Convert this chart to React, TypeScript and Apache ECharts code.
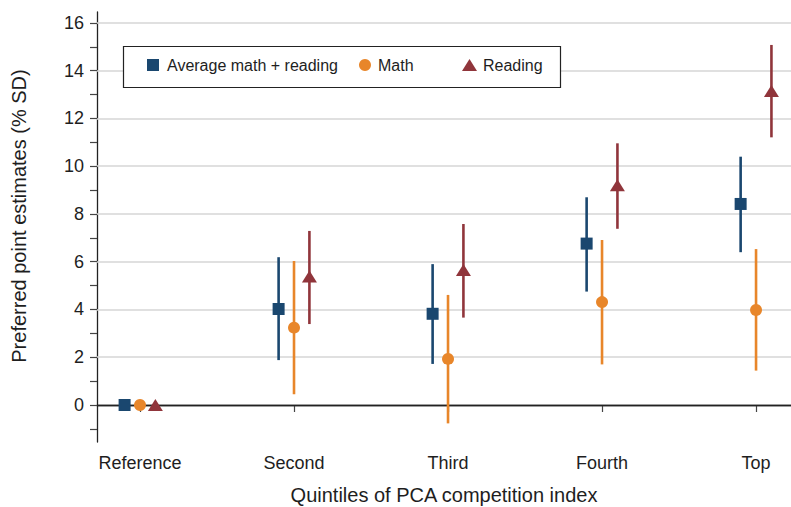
import React, { useEffect, useRef } from "react";
import * as echarts from "echarts";

const categories = ["Reference", "Second", "Third", "Fourth", "Top"];

const avgEst = [0, 4.02, 3.82, 6.76, 8.42];
const avgLo = [null, 1.88, 1.72, 4.75, 6.4];
const avgHi = [null, 6.19, 5.9, 8.7, 10.4];

const mathEst = [0, 3.24, 1.93, 4.31, 3.98];
const mathLo = [null, 0.45, -0.77, 1.7, 1.44];
const mathHi = [null, 6.03, 4.61, 6.91, 6.53];

const readEst = [0, 5.38, 5.65, 9.2, 13.15];
const readLo = [null, 3.39, 3.66, 7.38, 11.21];
const readHi = [null, 7.29, 7.58, 10.96, 15.08];

const yTickLabels = [0, 2, 4, 6, 8, 10, 12, 14, 16];
const yMinorTicks = [-1, 0, 1, 2, 3, 4, 5, 6, 7, 8, 9, 10, 11, 12, 13, 14, 15, 16];
const gridValues = [2, 4, 6, 8, 10, 12, 14, 16];

const FONT = "'Liberation Sans', Arial, Helvetica, sans-serif";
const TEXT = "#1e1e1e";
const BLUE = "#1a476f";
const ORANGE = "#e8862a";
const MAROON = "#90353b";

const NAMES = ["Average math + reading", "Math", "Reading"];

type Group = {
  name: string;
  color: string;
  symbol: string;
  size: number | number[];
  offset: number;
  est: number[];
  lo: (number | null)[];
  hi: (number | null)[];
};

const groups: Group[] = [
  { name: NAMES[0], color: BLUE, symbol: "rect", size: 12, offset: -0.1, est: avgEst, lo: avgLo, hi: avgHi },
  { name: NAMES[1], color: ORANGE, symbol: "circle", size: 12, offset: 0, est: mathEst, lo: mathLo, hi: mathHi },
  { name: NAMES[2], color: MAROON, symbol: "triangle", size: [15, 12], offset: 0.1, est: readEst, lo: readLo, hi: readHi },
];

export default function App() {
  const ref = useRef<HTMLDivElement>(null);

  useEffect(() => {
    document.body.style.margin = "0";
    if (!ref.current) return;
    const chart = echarts.init(ref.current, null, { renderer: "svg" });

    const series: any[] = [];

    // reference lines: light grid at even values, dark line at zero
    series.push({
      type: "scatter",
      data: [],
      silent: true,
      z: 1,
      markLine: {
        silent: true,
        z: 1,
        symbol: "none",
        label: { show: false },
        animation: false,
        data: [
          ...gridValues.map((v) => ({ yAxis: v, lineStyle: { color: "#d6d6d6", width: 1.5, type: "solid" } })),
          { yAxis: 0, lineStyle: { color: "#222", width: 1.3, type: "solid" } },
        ],
      },
    });

    groups.forEach((g) => {
      const ciData = categories
        .map((_, i) => (g.lo[i] == null ? null : [i + 1 + g.offset, g.lo[i], g.hi[i]]))
        .filter((d) => d !== null);
      series.push({
        type: "custom",
        name: g.name + " CI",
        z: 3,
        silent: true,
        data: ciData,
        renderItem: (params: any, api: any) => {
          const p1 = api.coord([api.value(0), api.value(1)]);
          const p2 = api.coord([api.value(0), api.value(2)]);
          return {
            type: "line",
            shape: { x1: p1[0], y1: p1[1], x2: p2[0], y2: p2[1] },
            style: { stroke: g.color, lineWidth: 2.6 },
          };
        },
      });
      series.push({
        type: "scatter",
        name: g.name,
        z: 4,
        symbol: g.symbol,
        symbolSize: g.size,
        itemStyle: { color: g.color, opacity: 1 },
        data: categories.map((_, i) => [i + 1 + g.offset, g.est[i]]),
      });
    });

    const legendBase = {
      top: 57,
      padding: 0,
      itemHeight: 12,
      selectedMode: false,
      z: 10,
    };
    const legendText = (pad: number) => ({
      fontFamily: FONT,
      fontSize: 16,
      color: TEXT,
      padding: [0, 0, 0, pad],
    });

    chart.setOption({
      animation: false,
      backgroundColor: "#fff",
      grid: { left: 97, right: 0, top: 12, bottom: 65 },
      legend: [
        { ...legendBase, left: 147, itemWidth: 12, textStyle: legendText(3), data: [NAMES[0]] },
        { ...legendBase, left: 359, itemWidth: 12, textStyle: legendText(2), data: [NAMES[1]] },
        { ...legendBase, left: 462, itemWidth: 15, textStyle: legendText(1), data: [NAMES[2]] },
      ],
      graphic: [
        {
          type: "rect",
          z: 8,
          shape: { x: 123.5, y: 46.5, width: 437, height: 41 },
          style: { fill: "#fff", stroke: "#222", lineWidth: 1.2 },
        },
        {
          type: "text",
          x: 19,
          y: 216,
          rotation: Math.PI / 2,
          style: {
            text: "Preferred point estimates (% SD)",
            font: `20px ${FONT}`,
            fill: TEXT,
            align: "center",
            verticalAlign: "middle",
          },
        },
        {
          type: "text",
          x: 444,
          y: 495,
          style: {
            text: "Quintiles of PCA competition index",
            font: `20px ${FONT}`,
            fill: TEXT,
            align: "center",
            verticalAlign: "middle",
          },
        },
      ],
      xAxis: {
        type: "value",
        min: 0.7208,
        max: 5.227,
        splitLine: { show: false },
        axisLine: { show: true, lineStyle: { color: "#222", width: 1.3 } },
        axisTick: { show: true, length: 7, customValues: [1, 2, 3, 4, 5], lineStyle: { color: "#444", width: 1.2 } },
        axisLabel: {
          customValues: [1, 2, 3, 4, 5],
          formatter: (v: number) => categories[Math.round(v) - 1],
          fontFamily: FONT,
          fontSize: 18,
          color: TEXT,
          margin: 12,
        },
      },
      yAxis: {
        type: "value",
        min: -1.55,
        max: 16.46,
        splitLine: { show: false },
        axisLine: { show: true, lineStyle: { color: "#222", width: 1.3 } },
        axisTick: { show: true, length: 7, customValues: yMinorTicks, lineStyle: { color: "#444", width: 1.2 } },
        axisLabel: {
          customValues: yTickLabels,
          fontFamily: FONT,
          fontSize: 18,
          color: TEXT,
          margin: 13,
        },
      },
      series,
    });

    return () => chart.dispose();
  }, []);

  return <div ref={ref} style={{ width: 791, height: 507 }} />;
}
